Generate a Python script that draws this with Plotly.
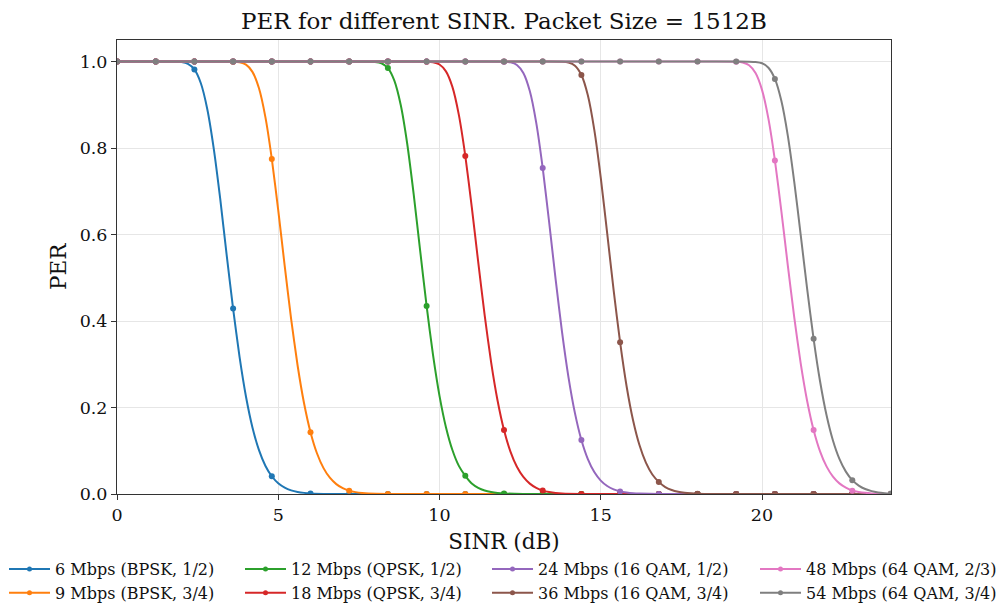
import plotly.graph_objects as go

# ---- data (SINR in dB, PER) ----
names = [
    "6 Mbps (BPSK, 1/2)", "9 Mbps (BPSK, 3/4)", "12 Mbps (QPSK, 1/2)", "18 Mbps (QPSK, 3/4)",
    "24 Mbps (16 QAM, 1/2)", "36 Mbps (16 QAM, 3/4)", "48 Mbps (64 QAM, 2/3)", "54 Mbps (64 QAM, 3/4)",
]
colors = ["#1f77b4", "#ff7f0e", "#2ca02c", "#d62728", "#9467bd", "#8c564b", "#e377c2", "#7f7f7f"]

sinr_6 = [0.0, 1.2, 2.0, 2.2, 2.4, 2.6, 2.8, 3.0, 3.2, 3.4, 3.6, 3.8, 4.0, 4.2, 4.4, 4.6, 4.8, 5.0, 5.2, 5.4,
          5.6, 5.8, 6.0, 6.6, 7.2, 8.4, 9.6, 10.8, 12.0, 13.2, 14.4, 15.6, 16.8, 18.0, 19.2, 20.4, 21.6, 22.8, 24.0]
per_6 = [1.0, 1.0, 0.999, 0.995, 0.982, 0.950, 0.890, 0.799, 0.683, 0.553, 0.429, 0.317, 0.225, 0.154, 0.102,
         0.0655, 0.041, 0.0248, 0.0147, 0.0084, 0.0047, 0.0026, 0.0014, 0.0002, 0.0, 0.0, 0.0, 0.0, 0.0, 0.0,
         0.0, 0.0, 0.0, 0.0, 0.0, 0.0, 0.0, 0.0, 0.0]

sinr_9 = [0.0, 1.2, 2.4, 3.6, 3.8, 4.0, 4.2, 4.4, 4.6, 4.8, 5.0, 5.2, 5.4, 5.6, 5.8, 6.0, 6.2, 6.4, 6.6, 6.8,
          7.0, 7.2, 7.4, 7.6, 7.8, 8.4, 9.6, 10.8, 12.0, 13.2, 14.4, 15.6, 16.8, 18.0, 19.2, 20.4, 21.6, 22.8, 24.0]
per_9 = [1.0, 1.0, 1.0, 0.9998, 0.9984, 0.9929, 0.9763, 0.9388, 0.8721, 0.775, 0.6557, 0.5275, 0.4047, 0.2972,
         0.2099, 0.143, 0.0943, 0.0604, 0.0376, 0.0228, 0.0134, 0.0077, 0.0043, 0.0023, 0.0012, 0.0002, 0.0, 0.0,
         0.0, 0.0, 0.0, 0.0, 0.0, 0.0, 0.0, 0.0, 0.0, 0.0, 0.0]

sinr_12 = [0.0, 1.2, 2.4, 3.6, 4.8, 6.0, 7.2, 8.0, 8.2, 8.4, 8.6, 8.8, 9.0, 9.2, 9.4, 9.6, 9.8, 10.0, 10.2, 10.4,
           10.6, 10.8, 11.0, 11.2, 11.4, 11.6, 11.8, 12.0, 12.6, 13.2, 14.4, 15.6, 16.8, 18.0, 19.2, 20.4, 21.6,
           22.8, 24.0]
per_12 = [1.0, 1.0, 1.0, 1.0, 1.0, 1.0, 1.0, 0.9993, 0.9962, 0.985, 0.956, 0.899, 0.8095, 0.693, 0.563, 0.435,
          0.321, 0.227, 0.1545, 0.1017, 0.065, 0.042, 0.0243, 0.0143, 0.0081, 0.0045, 0.0024, 0.0013, 0.00015,
          0.0, 0.0, 0.0, 0.0, 0.0, 0.0, 0.0, 0.0, 0.0, 0.0]

sinr_18 = [0.0, 1.2, 2.4, 3.6, 4.8, 6.0, 7.2, 8.4, 9.6, 9.8, 10.0, 10.2, 10.4, 10.6, 10.8, 11.0, 11.2, 11.4, 11.6,
           11.8, 12.0, 12.2, 12.4, 12.6, 12.8, 13.0, 13.2, 13.4, 13.6, 13.8, 14.4, 15.6, 16.8, 18.0, 19.2, 20.4,
           21.6, 22.8, 24.0]
per_18 = [1.0, 1.0, 1.0, 1.0, 1.0, 1.0, 1.0, 1.0, 0.9998, 0.9985, 0.9933, 0.9775, 0.9416, 0.8769, 0.782, 0.6643,
          0.5367, 0.4136, 0.3051, 0.2163, 0.148, 0.0981, 0.0630, 0.0394, 0.0240, 0.0142, 0.0079, 0.0046, 0.0025,
          0.0013, 0.0002, 0.0, 0.0, 0.0, 0.0, 0.0, 0.0, 0.0, 0.0]

sinr_24 = [0.0, 1.2, 2.4, 3.6, 4.8, 6.0, 7.2, 8.4, 9.6, 10.8, 12.0, 12.2, 12.4, 12.6, 12.8, 13.0, 13.2, 13.4, 13.6,
           13.8, 14.0, 14.2, 14.4, 14.6, 14.8, 15.0, 15.2, 15.4, 15.6, 15.8, 16.0, 16.2, 16.8, 18.0, 19.2, 20.4,
           21.6, 22.8, 24.0]
per_24 = [1.0, 1.0, 1.0, 1.0, 1.0, 1.0, 1.0, 1.0, 1.0, 1.0, 0.9998, 0.9984, 0.9923, 0.9737, 0.9319, 0.8585, 0.754,
          0.6285, 0.4971, 0.3744, 0.2699, 0.1871, 0.125, 0.0809, 0.0508, 0.0310, 0.0184, 0.0107, 0.0060, 0.0033,
          0.0017, 0.0009, 0.0001, 0.0, 0.0, 0.0, 0.0, 0.0, 0.0]

sinr_36 = [0.0, 1.2, 2.4, 3.6, 4.8, 6.0, 7.2, 8.4, 9.6, 10.8, 12.0, 13.2, 13.8, 14.0, 14.2, 14.4, 14.6, 14.8, 15.0,
           15.2, 15.4, 15.6, 15.8, 16.0, 16.2, 16.4, 16.6, 16.8, 17.0, 17.2, 17.4, 17.6, 17.8, 18.0, 18.6, 19.2,
           20.4, 21.6, 22.8, 24.0]
per_36 = [1.0, 1.0, 1.0, 1.0, 1.0, 1.0, 1.0, 1.0, 1.0, 1.0, 1.0, 1.0, 0.9997, 0.9979, 0.9906, 0.969, 0.922, 0.842,
          0.7316, 0.6026, 0.4711, 0.351, 0.2498, 0.1711, 0.1132, 0.0725, 0.0451, 0.028, 0.0160, 0.0092, 0.0051,
          0.0028, 0.0015, 0.0007, 0.0001, 0.0, 0.0, 0.0, 0.0, 0.0]

sinr_48 = [0.0, 1.2, 2.4, 3.6, 4.8, 6.0, 7.2, 8.4, 9.6, 10.8, 12.0, 13.2, 14.4, 15.6, 16.8, 18.0, 19.2, 19.4, 19.6,
           19.8, 20.0, 20.2, 20.4, 20.6, 20.8, 21.0, 21.2, 21.4, 21.6, 21.8, 22.0, 22.2, 22.4, 22.6, 22.8, 23.0,
           23.2, 23.4, 24.0]
per_48 = [1.0, 1.0, 1.0, 1.0, 1.0, 1.0, 1.0, 1.0, 1.0, 1.0, 1.0, 1.0, 1.0, 1.0, 1.0, 1.0, 0.9997, 0.9980, 0.9916,
          0.9735, 0.9346, 0.8675, 0.7715, 0.6545, 0.5289, 0.4083, 0.3021, 0.2152, 0.148, 0.0986, 0.0638, 0.0401,
          0.0246, 0.0147, 0.0078, 0.0048, 0.0027, 0.0014, 0.0002]

sinr_54 = [0.0, 1.2, 2.4, 3.6, 4.8, 6.0, 7.2, 8.4, 9.6, 10.8, 12.0, 13.2, 14.4, 15.6, 16.8, 18.0, 19.2, 19.6, 19.8,
           20.0, 20.2, 20.4, 20.6, 20.8, 21.0, 21.2, 21.4, 21.6, 21.8, 22.0, 22.2, 22.4, 22.6, 22.8, 23.0, 23.2,
           23.4, 23.6, 23.8, 24.0]
per_54 = [1.0, 1.0, 1.0, 1.0, 1.0, 1.0, 1.0, 1.0, 1.0, 1.0, 1.0, 1.0, 1.0, 1.0, 1.0, 1.0, 1.0, 0.9999, 0.9992,
          0.9962, 0.9859, 0.960, 0.9094, 0.829, 0.7221, 0.5994, 0.4744, 0.359, 0.2608, 0.1826, 0.1237, 0.0812,
          0.0518, 0.032, 0.0195, 0.0115, 0.0066, 0.0037, 0.0020, 0.0010]

series_x = [sinr_6, sinr_9, sinr_12, sinr_18, sinr_24, sinr_36, sinr_48, sinr_54]
series_y = [per_6, per_9, per_12, per_18, per_24, per_36, per_48, per_54]

x_ticks = [0, 5, 10, 15, 20]
y_ticks = [0.0, 0.2, 0.4, 0.6, 0.8, 1.0]
marker_step = 1.2

FONT = "DejaVu Serif"
W, H = 999, 606
L, R, T, B = 117, 108, 40, 112

fig = go.Figure()

for xs, ys, c in zip(series_x, series_y, colors):
    fig.add_trace(go.Scatter(x=xs, y=ys, mode="lines", line=dict(color=c, width=2, shape="spline", smoothing=0.6),
                             showlegend=False, hoverinfo="skip"))
    idx = [i for i, v in enumerate(xs) if abs(v / marker_step - round(v / marker_step)) < 1e-6]
    fig.add_trace(go.Scatter(x=[xs[i] for i in idx], y=[ys[i] for i in idx], mode="markers",
                             marker=dict(color=c, size=6), showlegend=False))

# legend entries: four columns of two entries
legend_ids = ["legend", "legend", "legend2", "legend2", "legend3", "legend3", "legend4", "legend4"]
for n, c, lg in zip(names, colors, legend_ids):
    fig.add_trace(go.Scatter(x=[None], y=[None], mode="lines+markers", name=n,
                             line=dict(color=c, width=2), marker=dict(color=c, size=5), legend=lg))

col_x = [4, 240, 487, 755]
leg_common = dict(xref="container", yref="container", yanchor="top", xanchor="left",
                  orientation="v", bgcolor="rgba(0,0,0,0)", font=dict(family=FONT, size=16, color="#111"),
                  tracegroupgap=0, itemwidth=41)
legends = {}
for k, lid in enumerate(["legend", "legend2", "legend3", "legend4"]):
    d = dict(leg_common)
    d["x"] = col_x[k] / W
    d["y"] = 1 - 552 / H
    legends[lid] = d

axis_common = dict(showline=True, linecolor="#333", linewidth=1, mirror=True, ticks="outside", ticklen=5,
                   tickcolor="#333", tickfont=dict(family=FONT, size=17.5, color="#111"), showgrid=True,
                   gridcolor="#e6e6e6", gridwidth=1, zeroline=False)

plot_w = W - L - R

fig.update_layout(
    width=W, height=H,
    margin=dict(l=L, r=R, t=T, b=B, autoexpand=False),
    paper_bgcolor="white", plot_bgcolor="white",
    title=dict(text="PER for different SINR. Packet Size = 1512B", x=(L + plot_w / 2) / W, xanchor="center",
               y=1 - 21 / H, yanchor="middle", font=dict(family=FONT, size=23, color="#111")),
    xaxis=dict(range=[0, 24], tickvals=x_ticks, ticktext=[str(v) for v in x_ticks],
               title=dict(text="SINR (dB)", font=dict(family=FONT, size=21.5, color="#111"), standoff=9),
               **axis_common),
    yaxis=dict(range=[0, 1.05], tickvals=y_ticks, ticktext=[f"{v:.1f}" for v in y_ticks], **axis_common),
    annotations=[dict(text="PER", textangle=-90, xref="paper", yref="paper", x=(58 - L) / plot_w, y=0.5,
                      xanchor="center", yanchor="middle", showarrow=False,
                      font=dict(family=FONT, size=21.5, color="#111"))],
    **legends,
)

fig.write_html("out.html", config={"displayModeBar": False},
               post_script="document.body.style.margin='0';")
